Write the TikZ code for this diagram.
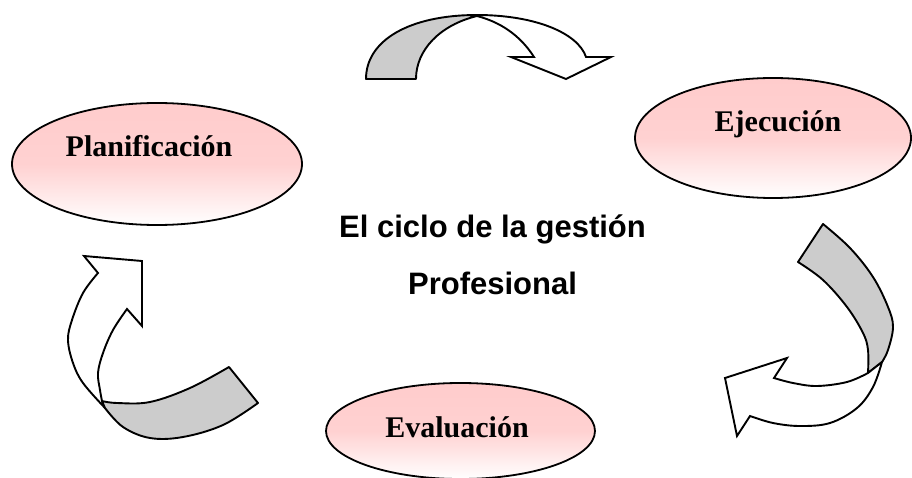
\documentclass[tikz,border=0pt]{standalone}
\usepackage{fontspec}
\setmainfont{Liberation Serif}
\newfontfamily\arialfont{Liberation Sans}
\definecolor{pinkc}{RGB}{255,204,204}
\definecolor{grayc}{RGB}{204,204,204}
\begin{document}
\begin{tikzpicture}[x=1pt,y=-1pt,
  ovalbox/.style={ellipse, draw=black, line width=1.8pt, inner sep=0pt,
    top color=pinkc, bottom color=white, middle color=pinkc!90},
  ovaltext/.style={font=\fontsize{30}{30}\selectfont\bfseries, anchor=base},
  centertext/.style={font=\arialfont\fontsize{31}{31}\selectfont\bfseries, anchor=base},
  band/.style={draw=black, line width=1.9pt, fill=grayc, line join=round},
  ribbon/.style={draw=black, line width=1.9pt, fill=white, line join=miter},
]
\usetikzlibrary{shapes.geometric}
\useasboundingbox (0,0) rectangle (912,478);
\fill[white] (0,0) rectangle (912,478);

% ellipses
\node[ovalbox, minimum width=290pt, minimum height=122pt] (plan) at (157,164) {};
\node[ovalbox, minimum width=276pt, minimum height=120pt] (ejec) at (773,138) {};
\node[ovalbox, minimum width=269pt, minimum height=96pt] (eval) at (460.5,431) {};

\node[ovaltext] (planT) at (149,157) {Planificación};
\node[ovaltext] (ejecT) at (778,132) {Ejecución};
\node[ovaltext] (evalT) at (457,437) {Evaluación};

\node[centertext] (c1) at (492.5,237) {El ciclo de la gestión};
\node[centertext] (c2) at (492.5,294) {Profesional};

% top arrow
\draw[band] (366,79) -- (416,79)
  .. controls (416,50) and (440,25) .. (477,16)
  .. controls (470,15) and (460,15) .. (477,15)
  .. controls (410,15) and (366,40) .. (366,79) -- cycle;
\draw[ribbon] (477,15) .. controls (535,15) and (578,33) .. (586,57)
  -- (611,57) -- (566,79) -- (511,57) -- (534,57)
  .. controls (520,35) and (500,22) .. (477,16) -- cycle;

% right arrow
\draw[band] plot[smooth, tension=0.6] coordinates {(823,224) (850,248) (873,277) (888,307) (893,327) (888,350) (882,362)}
  -- (868,373)
  -- plot[smooth, tension=0.6] coordinates {(868,373) (868,350) (863,333) (847,307) (823,280) (798,262)} -- cycle;
\draw[ribbon] plot[smooth, tension=0.6] coordinates {(868,373) (847,382) (817,386) (793,383) (774,378)}
  -- (787,358) -- (725,378) -- (737,436) -- (750,416)
  -- plot[smooth, tension=0.6] coordinates {(750,416) (773,423) (800,426) (830,423) (857,408) (873,387) (882,362)} -- cycle;

% left arrow
\draw[ribbon] plot[smooth, tension=0.6] coordinates {(105,408) (83,383) (73,363) (68,340) (72,320) (83,293) (98,273)}
  -- (84,256) -- (142,261) -- (142,326) -- (127,309)
  -- plot[smooth, tension=0.6] coordinates {(127,309) (113,330) (103,353) (98,373) (100,390) (102,401)} -- cycle;
\draw[band] (229,367) -- (258,403)
  -- plot[smooth, tension=0.6] coordinates {(258,403) (223,425) (183,437) (150,438) (123,427) (105,408)}
  -- (102,401)
  -- plot[smooth, tension=0.6] coordinates {(102,401) (117,403) (150,402) (190,388) (229,367)} -- cycle;
\end{tikzpicture}
\end{document}
